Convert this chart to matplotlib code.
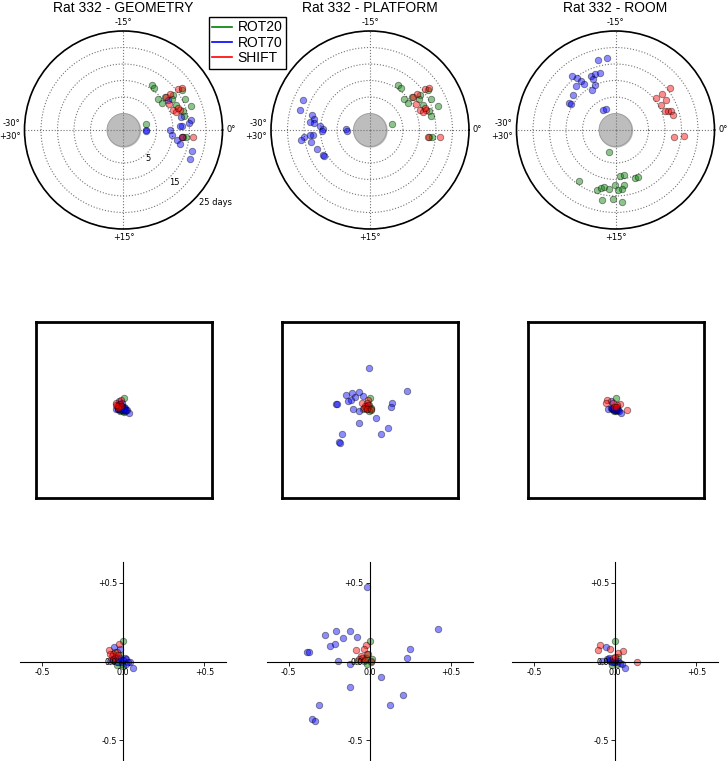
import numpy as np
import matplotlib
matplotlib.use('Agg')
import matplotlib.pyplot as plt
from matplotlib.lines import Line2D

# Desplazamiento angular (grados) y dia de cada sesion, por marco de referencia
geo_rot20_ang = [-9.6, -9.0, -7.0, -5.9, -6.4, -5.9, -5.4, -4.2, -4.5, -3.2, -3.0, -2.1, -2.5, 1.1, 1.0, -5.7]
geo_rot20_day = [11.0, 10.9, 8.9, 9.2, 11.2, 13.5, 12.5, 12.7, 15.9, 16.8, 13.8, 13.8, 2.0, 13.0, 14.0, 16.4]
geo_rot70_ang = [-5.6, -2.1, -0.6, -1.4, -1.0, 0.0, 0.1, 1.0, 1.7, 2.3, 1.1, 2.8, 3.9, -0.7, 0.4]
geo_rot70_day = [11.3, 13.0, 12.9, 15.8, 15.0, 1.7, 9.1, 9.9, 11.6, 12.6, 12.7, 16.8, 17.0, 12.1, 1.8]
geo_shift_ang = [-6.3, -6.2, -5.9, -5.0, -3.6, -3.2, -3.2, 1.1, 0.9, -3.6, -6.3]
geo_shift_day = [13.0, 15.8, 16.8, 11.0, 11.2, 13.1, 12.0, 12.7, 16.2, 12.9, 11.4]

pla_rot20_ang = geo_rot20_ang
pla_rot20_day = geo_rot20_day
pla_rot70_ang = [-26.0, -27.3, -27.6, -28.1, -28.8, -28.9, -29.2, -29.8, -29.7, 29.6,
                 29.2, 29.2, 29.0, 28.6, 28.0, 26.7, 25.4, 25.0, 29.9]
pla_rot70_day = [17.2, 17.0, 13.1, 12.2, 13.2, 12.2, 10.1, 9.3, 2.2, 2.0,
                 12.3, 13.3, 15.2, 16.1, 13.2, 12.1, 11.1, 11.0, 9.5]
pla_shift_ang = geo_shift_ang
pla_shift_day = geo_shift_day

roo_rot20_ang = [17.6, 21.0, 17.9, 17.4, 16.9, 16.0, 15.1, 14.1, 13.2, 11.3, 10.7, 13.5, 14.0, 14.6, 16.8, 15.4, 14.1]
roo_rot20_day = [2.0, 14.0, 13.9, 13.1, 12.7, 13.0, 11.8, 8.9, 9.0, 10.7, 10.8, 11.8, 13.0, 13.1, 16.7, 15.8, 16.9]
roo_rot70_ang = [-17.3, -16.1, -21.5, -21.1, -19.1, -18.4, -17.6, -18.9, -20.8, -20.7,
                 -22.0, -19.1, -20.1, -23.4, -24.9, -25.0, -20.2, -19.1]
roo_rot70_day = [16.9, 16.9, 15.9, 14.7, 12.9, 13.0, 12.9, 11.9, 13.1, 12.0,
                 12.8, 9.9, 9.2, 11.8, 11.2, 10.6, 2.1, 1.9]
roo_shift_ang = [-6.3, -6.4, -6.4, -5.1, -4.7, -3.6, -3.4, -3.2, -2.4, 1.1, 0.9]
roo_shift_day = [15.8, 12.8, 10.8, 12.9, 10.8, 11.0, 11.9, 12.9, 13.0, 12.8, 15.8]

# Posicion x, y de cada sesion
geo_rot20_x = [0.0, -0.01, -0.03, -0.06, -0.04, 0.0, -0.02, -0.05]
geo_rot20_y = [0.13, -0.013, 0.0, 0.01, -0.02, -0.03, 0.04, 0.06]
geo_rot70_x = [-0.055, -0.02, -0.082, -0.02, 0.01, 0.02, 0.041, 0.061, 0.016, -0.04, -0.01, 0.0, -0.03, 0.03, -0.06]
geo_rot70_y = [0.093, 0.078, 0.004, 0.025, 0.025, 0.015, -0.006, -0.044, -0.017, 0.0, 0.0, 0.01, 0.015, 0.0, 0.01]
geo_shift_x = [-0.086, -0.025, -0.041, -0.072, -0.051, -0.06, -0.03, -0.065, -0.08]
geo_shift_y = [0.074, 0.11, 0.057, 0.036, 0.025, 0.045, 0.04, 0.015, 0.05]

pla_rot20_x = [0.002, -0.076, -0.025, -0.01, 0.016, 0.01, -0.014, -0.035]
pla_rot20_y = [0.131, 0.004, 0.025, 0.047, 0.015, -0.006, -0.017, 0.004]
pla_rot70_x = [-0.014, 0.419, -0.278, -0.206, -0.124, -0.165, -0.080, -0.216, -0.247, -0.386, -0.376,
               0.247, 0.233, -0.194, -0.122, 0.068, -0.122, 0.208, 0.124, -0.313, -0.355, -0.340]
pla_rot70_y = [0.47, 0.205, 0.169, 0.19, 0.195, 0.146, 0.156, 0.11, 0.099, 0.061, 0.063,
               0.078, 0.025, 0.004, -0.013, -0.097, -0.159, -0.211, -0.275, -0.275, -0.366, -0.378]
pla_shift_x = [-0.087, -0.025, -0.035, -0.056, -0.045, -0.066, -0.019, -0.029, 0.006]
pla_shift_y = [0.074, 0.106, 0.078, 0.036, 0.021, 0.015, 0.047, 0.011, 0.004]

roo_rot20_x = [0.0, 0.01, -0.02, 0.0, -0.04, 0.02]
roo_rot20_y = [0.131, -0.017, -0.021, 0.0, 0.01, 0.03]
roo_rot70_x = [-0.055, -0.082, -0.051, -0.031, -0.01, 0.02, 0.041, 0.061, -0.04, 0.0, -0.02, 0.03]
roo_rot70_y = [0.093, 0.004, 0.015, 0.004, -0.006, 0.004, -0.013, -0.044, 0.02, 0.01, 0.0, -0.01]
roo_shift_x = [-0.096, -0.031, -0.105, 0.051, 0.016, -0.016, 0.133, 0.0]
roo_shift_y = [0.106, 0.078, 0.074, 0.068, 0.053, 0.025, 0.0, 0.03]

titulos = ['Rat 332 - GEOMETRY', 'Rat 332 - PLATFORM', 'Rat 332 - ROOM']
condiciones = ['ROT20', 'ROT70', 'SHIFT']
colores = ['green', 'blue', 'red']

polar_datos = [
    [(geo_rot20_ang, geo_rot20_day), (geo_rot70_ang, geo_rot70_day), (geo_shift_ang, geo_shift_day)],
    [(pla_rot20_ang, pla_rot20_day), (pla_rot70_ang, pla_rot70_day), (pla_shift_ang, pla_shift_day)],
    [(roo_rot20_ang, roo_rot20_day), (roo_rot70_ang, roo_rot70_day), (roo_shift_ang, roo_shift_day)],
]
xy_datos = [
    [(geo_rot20_x, geo_rot20_y), (geo_rot70_x, geo_rot70_y), (geo_shift_x, geo_shift_y)],
    [(pla_rot20_x, pla_rot20_y), (pla_rot70_x, pla_rot70_y), (pla_shift_x, pla_shift_y)],
    [(roo_rot20_x, roo_rot20_y), (roo_rot70_x, roo_rot70_y), (roo_shift_x, roo_shift_y)],
]

W, H = 728, 761
fig = plt.figure(figsize=(W / 100, H / 100), dpi=100)

centros = [123.5, 370, 615.5]
estilo_pt = dict(s=22, alpha=0.45, edgecolors='k', linewidths=0.6)
fs_ticks = 6

for i in range(3):
    cx = centros[i]

    # --- fila superior: polar (angulo vs dia) ---
    R = 99
    axp = fig.add_axes([(cx - R) / W, 1 - (130 + R) / H, 2 * R / W, 2 * R / H], projection='polar')
    axp.set_theta_zero_location('E')
    axp.set_theta_direction(-1)
    axp.set_ylim(-5, 25)
    th = np.linspace(0, 2 * np.pi, 200)
    axp.fill_between(th, -5, 0, color='#bdbdbd', zorder=1)
    axp.plot(th, np.zeros_like(th), color='#9a9a9a', lw=0.6, zorder=1)
    for (ang, day), c in zip(polar_datos[i], colores):
        axp.scatter(np.deg2rad(np.array(ang) * 6), day, color=c, zorder=3, **estilo_pt)
    axp.set_thetagrids([0, 90, 180, 270], ['0°', '+15°', '', '-15°'], fontsize=fs_ticks)
    axp.tick_params(axis='x', pad=-4.5)
    axp.text(np.pi, 26.2, '-30°\n+30°', ha='right', va='center', multialignment='right',
             linespacing=1.45, fontsize=fs_ticks, clip_on=False)
    axp.set_rgrids([5, 10, 15, 20, 25], [''] * 5)
    if i == 0:
        for txt, th_lbl, r_lbl in [('5', 52.6, 6.0), ('15', 49.2, 16.1), ('25 days', 44, 26.6)]:
            axp.text(np.deg2rad(th_lbl), r_lbl, txt, ha='left', va='center',
                     fontsize=fs_ticks, clip_on=False)
    axp.grid(True, linestyle=':', color='0.45', lw=0.8)
    axp.spines['polar'].set_linewidth(1.2)
    fig.text(cx / W, 1 - 8 / H, titulos[i], ha='center', va='center',
             fontsize=10, family='Liberation Sans')

    # --- fila central: arena completa ---
    L = 88
    axm = fig.add_axes([(cx - L) / W, 1 - (409.5 + L) / H, 2 * L / W, 2 * L / H])
    for (x, y), c in zip(xy_datos[i], colores):
        axm.scatter(x, y, color=c, **estilo_pt)
    axm.set_xlim(-1, 1)
    axm.set_ylim(-1, 1)
    axm.set_xticks([])
    axm.set_yticks([])
    for sp in axm.spines.values():
        sp.set_linewidth(2)

    # --- fila inferior: ejes cruzados ---
    axb = fig.add_axes([(cx - 103.3) / W, 0, 206 / W, 199 / H])
    for (x, y), c in zip(xy_datos[i], colores):
        axb.scatter(x, y, color=c, **estilo_pt)
    axb.set_xlim(-0.635, 0.635)
    axb.set_ylim(-0.63, 0.63)
    axb.spines['left'].set_position('zero')
    axb.spines['bottom'].set_position('zero')
    axb.spines['right'].set_visible(False)
    axb.spines['top'].set_visible(False)
    axb.set_xticks([-0.5, 0, 0.5])
    axb.set_xticklabels(['-0.5', '0.0', '+0.5'])
    axb.set_yticks([-0.5, 0, 0.5])
    axb.set_yticklabels(['-0.5', '0.0', '+0.5'])
    axb.tick_params(labelsize=5.8, length=3, width=0.6, pad=1.5)
    axb.patch.set_visible(False)

manejadores = [Line2D([0], [0], color=c, lw=1.2) for c in colores]
fig.legend(manejadores, condiciones, loc='upper left', bbox_to_anchor=(209 / W, 1 - 17 / H),
           prop={'family': 'Liberation Sans', 'size': 10}, fancybox=False, edgecolor='k',
           framealpha=1, borderpad=0.25, labelspacing=0.1, handlelength=1.4,
           handletextpad=0.4, borderaxespad=0)

fig.savefig('out.png', dpi=100)
